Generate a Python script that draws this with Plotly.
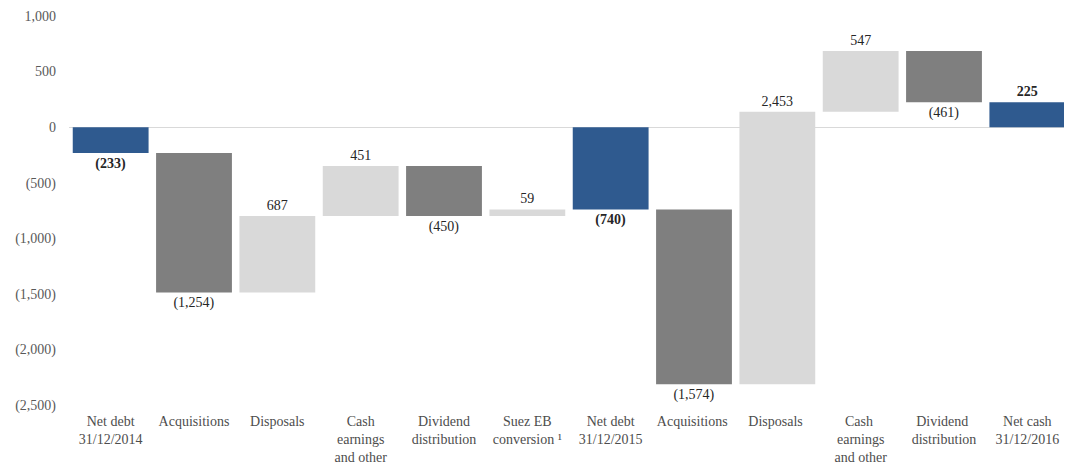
import plotly.graph_objects as go

categories = ["Net debt<br>31/12/2014", "Acquisitions", "Disposals", "Cash<br>earnings<br>and other",
              "Dividend<br>distribution", "Suez EB<br>conversion ¹", "Net debt<br>31/12/2015",
              "Acquisitions ", "Disposals ", "Cash <br>earnings<br>and other", "Dividend <br>distribution",
              "Net cash<br>31/12/2016"]
values = [-233, -1254, 687, 451, -450, 59, -740, -1574, 2453, 547, -461, 225]
measures = ["absolute", "relative", "relative", "relative", "relative", "relative", "total",
            "relative", "relative", "relative", "relative", "total"]
tick_vals = [1000, 500, 0, -500, -1000, -1500, -2000, -2500]
tick_text = ["1,000", "500", "0", "(500)", "(1,000)", "(1,500)", "(2,000)", "(2,500)"]

FONT = "'Liberation Serif', 'Times New Roman', Times, serif"


def fmt(v, bold):
    s = f"{abs(v):,}"
    s = f"({s})" if v < 0 else s
    return f"<b>{s}</b>" if bold else s


labels = [fmt(v, m != "relative") for v, m in zip(values, measures)]

fig = go.Figure(go.Waterfall(
    x=categories, y=values, measure=measures,
    text=labels, textposition="outside",
    textfont=dict(family=FONT, size=14, color="#262626"),
    increasing=dict(marker=dict(color="#D9D9D9")),
    decreasing=dict(marker=dict(color="#7F7F7F")),
    totals=dict(marker=dict(color="#2F5A8F")),
    connector=dict(visible=False),
    cliponaxis=False,
))

fig.update_layout(
    width=1064, height=458,
    margin=dict(l=61, r=3, t=8, b=61, autoexpand=False),
    paper_bgcolor="white", plot_bgcolor="white",
    waterfallgap=0.09,
    showlegend=False,
    font=dict(family=FONT, size=14, color="#404040"),
    xaxis=dict(showgrid=False, showline=False, ticks="", automargin=False, ticklabelstandoff=6,
               tickfont=dict(family=FONT, size=14, color="#4D4D4D")),
    yaxis=dict(range=[-2500, 1000], tickvals=tick_vals, ticktext=tick_text, showgrid=False,
               automargin=False,
               zeroline=True, zerolinecolor="#D9D9D9", zerolinewidth=1, showline=False,
               tickfont=dict(family=FONT, size=14, color="#595959"), ticks="", ticklabelstandoff=12),
)

fig.write_html("out.html")
